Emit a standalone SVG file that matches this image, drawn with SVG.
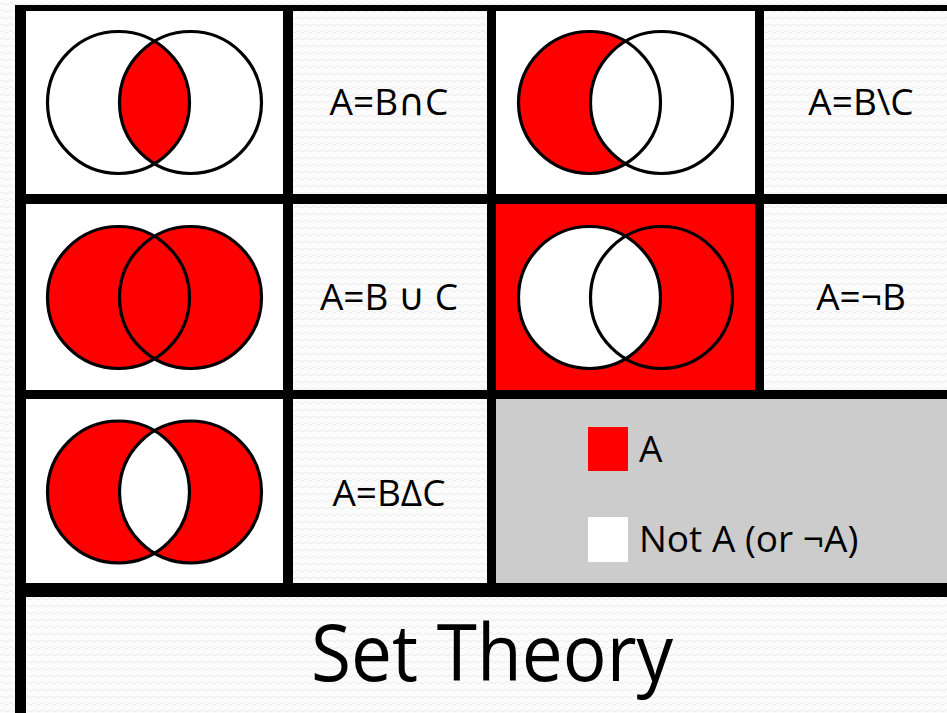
<svg xmlns="http://www.w3.org/2000/svg" width="947" height="713" viewBox="0 0 947 713">
<defs>
<pattern id="zz" width="8" height="7" patternUnits="userSpaceOnUse">
<rect width="8" height="7" fill="#fcfcfc"/>
<path d="M0,4.5 Q2,1.5 4,3.5 T8,4.5" fill="none" stroke="#ebebeb" stroke-width="1"/>
</pattern>
<path id="lens" d="M0,-61.2 A71,71 0 0 1 0,61.2 A71,71 0 0 1 0,-61.2 Z"/>
</defs>
<style>
.bg{fill:url(#zz)}
.wh{fill:#ffffff}
.red{fill:#ff0000}
.ol{fill:none;stroke:#000;stroke-width:3.2}
.lbl{font-family:"Open Sans","DejaVu Sans",sans-serif;font-size:37px;fill:#000;text-anchor:middle}
.leg{font-family:"Open Sans","DejaVu Sans",sans-serif;font-size:37px;fill:#000}
.title{font-family:"Open Sans","DejaVu Sans",sans-serif;font-size:73px;fill:#000;text-anchor:middle}
</style>
<rect class="bg" x="0" y="0" width="947" height="713"/>
<rect x="15" y="5" width="960" height="730" fill="#000"/>

<g id="intersection">
<rect class="wh" x="26" y="11" width="257" height="183"/>
<circle cx="118.5" cy="102.5" r="71" class="wh"/>
<circle cx="190.5" cy="102.5" r="71" class="wh"/>
<use href="#lens" x="154.5" y="102.5" class="red"/>
<circle cx="118.5" cy="102.5" r="71" class="ol"/>
<circle cx="190.5" cy="102.5" r="71" class="ol"/>
</g>
<g id="label-intersection">
<rect class="bg" x="293" y="11" width="194" height="183"/>
<text class="lbl" x="389" y="115">A=B∩C</text>
</g>
<g id="difference">
<rect class="wh" x="496" y="11" width="259" height="183"/>
<circle cx="589.5" cy="102.5" r="71" class="red"/>
<circle cx="661.5" cy="102.5" r="71" class="wh"/>
<circle cx="589.5" cy="102.5" r="71" class="ol"/>
<circle cx="661.5" cy="102.5" r="71" class="ol"/>
</g>
<g id="label-difference">
<rect class="bg" x="764" y="11" width="194" height="183"/>
<text class="lbl" x="861" y="115">A=B\C</text>
</g>

<g id="union">
<rect class="wh" x="26" y="204" width="257" height="186"/>
<circle cx="118.5" cy="297.5" r="71" class="red"/>
<circle cx="190.5" cy="297.5" r="71" class="red"/>
<circle cx="118.5" cy="297.5" r="71" class="ol"/>
<circle cx="190.5" cy="297.5" r="71" class="ol"/>
</g>
<g id="label-union">
<rect class="bg" x="293" y="204" width="194" height="186"/>
<text class="lbl" x="389" y="310">A=B ∪ C</text>
</g>
<g id="complement">
<rect class="red" x="496" y="204" width="259" height="186"/>
<circle cx="661.5" cy="297.5" r="71" class="red"/>
<circle cx="589.5" cy="297.5" r="71" class="wh"/>
<circle cx="589.5" cy="297.5" r="71" class="ol"/>
<circle cx="661.5" cy="297.5" r="71" class="ol"/>
</g>
<g id="label-complement">
<rect class="bg" x="764" y="204" width="194" height="186"/>
<text class="lbl" x="861" y="310">A=¬B</text>
</g>

<g id="symdiff">
<rect class="wh" x="26" y="399" width="257" height="184"/>
<circle cx="118.5" cy="492" r="71" class="red"/>
<circle cx="190.5" cy="492" r="71" class="red"/>
<use href="#lens" x="154.5" y="492" class="wh"/>
<circle cx="118.5" cy="492" r="71" class="ol"/>
<circle cx="190.5" cy="492" r="71" class="ol"/>
</g>
<g id="label-symdiff">
<rect class="bg" x="293" y="399" width="194" height="184"/>
<text class="lbl" x="389" y="506">A=BΔC</text>
</g>

<g id="legend">
<rect x="496" y="399" width="462" height="184" fill="#cccccc"/>
<rect class="red" x="588" y="427" width="40" height="44"/>
<text class="leg" x="639" y="462">A</text>
<rect class="wh" x="588" y="517" width="40" height="45"/>
<text class="leg" x="639" y="552">Not A (or ¬A)</text>
</g>

<g id="title">
<rect class="bg" x="26" y="597" width="940" height="130"/>
<text class="title" transform="translate(492,681) scale(1,1.07)" x="0" y="0">Set Theory</text>
</g>
<g id="connectors"></g>
</svg>
